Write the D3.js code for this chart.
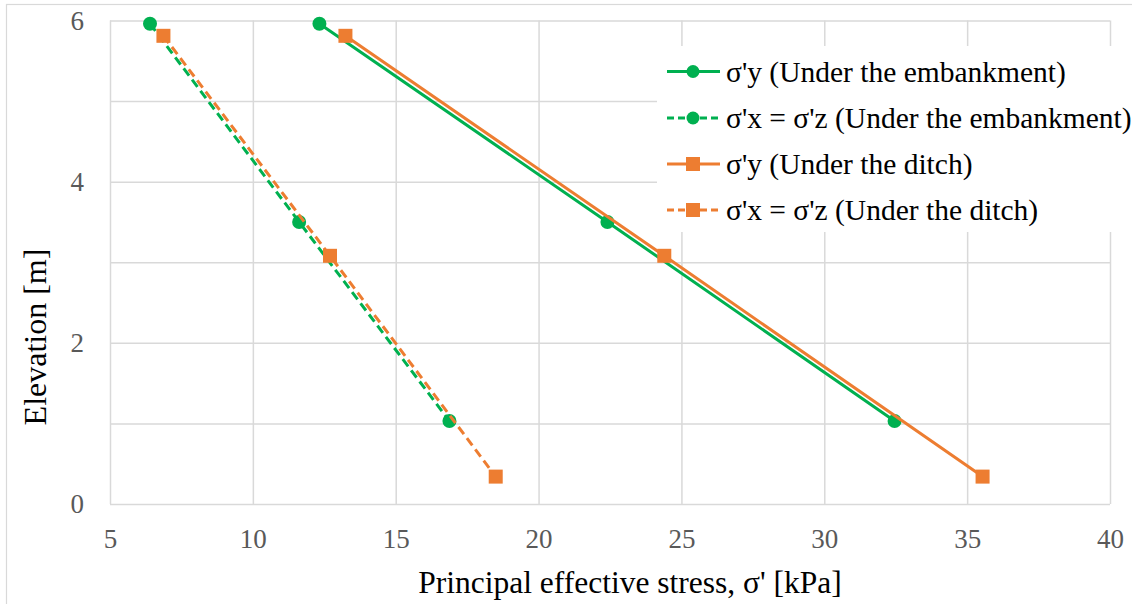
<!DOCTYPE html>
<html>
<head>
<meta charset="utf-8">
<script src="https://cdn.jsdelivr.net/npm/d3@7"></script>
<style>
  html, body { margin: 0; padding: 0; background: #fff; }
  svg { display: block; }
</style>
</head>
<body>
<svg id="chart" width="1132" height="604"></svg>
<script>
// ---- data ----
const seriesNames = [
  "σ'y (Under the embankment)",
  "σ'x = σ'z (Under the embankment)",
  "σ'y (Under the ditch)",
  "σ'x = σ'z (Under the ditch)"
];
const embankmentElevation = [5.96, 3.50, 1.03];
const embankmentSigmaY    = [12.33, 22.41, 32.46];
const embankmentSigmaXZ   = [6.40, 11.62, 16.88];
const ditchElevation      = [5.81, 3.08, 0.34];
const ditchSigmaY         = [13.24, 24.40, 35.54];
const ditchSigmaXZ        = [6.87, 12.70, 18.50];
const xTickValues = [5, 10, 15, 20, 25, 30, 35, 40];
const yTickValues = [0, 2, 4, 6];
const yGridValues = [0, 1, 2, 3, 4, 5, 6];
const xTitle = "Principal effective stress, σ' [kPa]";
const yTitle = "Elevation [m]";

// ---- build ----
const FONT = "'Liberation Serif', 'Times New Roman', 'DejaVu Serif', serif";
const GREEN = "#00b050", ORANGE = "#ed7d31", GRID = "#d9d9d9";
const series = [
  { name: seriesNames[0], xs: embankmentSigmaY,  ys: embankmentElevation, color: GREEN,  dash: null,  marker: "circle" },
  { name: seriesNames[1], xs: embankmentSigmaXZ, ys: embankmentElevation, color: GREEN,  dash: "9,5", marker: "circle" },
  { name: seriesNames[2], xs: ditchSigmaY,       ys: ditchElevation,      color: ORANGE, dash: null,  marker: "square" },
  { name: seriesNames[3], xs: ditchSigmaXZ,      ys: ditchElevation,      color: ORANGE, dash: "9,5", marker: "square" }
];

const svg = d3.select("#chart").style("font-family", FONT);
const plot = { left: 110, top: 20.5, right: 1110, bottom: 504 };
const x = d3.scaleLinear().domain([5, 40]).range([plot.left, plot.right]);
const y = d3.scaleLinear().domain([0, 6]).range([plot.bottom, plot.top]);

// outer chart border (top/left visible)
svg.append("rect").attr("x", 6.5).attr("y", 4.5).attr("width", 1140).attr("height", 620)
  .attr("fill", "none").attr("stroke", GRID).attr("stroke-width", 1.2);

// gridlines
const gx = svg.append("g").attr("transform", `translate(0,${plot.bottom})`)
  .call(d3.axisBottom(x).tickValues(xTickValues).tickSize(-(plot.bottom - plot.top)).tickFormat(""));
const gy = svg.append("g").attr("transform", `translate(${plot.left},0)`)
  .call(d3.axisLeft(y).tickValues(yGridValues).tickSize(-(plot.right - plot.left)).tickFormat(""));
[gx, gy].forEach(g => {
  g.select(".domain").remove();
  g.selectAll("line").attr("stroke", GRID).attr("stroke-width", 1.5);
});

// tick labels
const ax = svg.append("g").attr("transform", `translate(0,${plot.bottom})`)
  .call(d3.axisBottom(x).tickValues(xTickValues).tickSize(0).tickPadding(25).tickFormat(d3.format("d")));
const ay = svg.append("g").attr("transform", `translate(${plot.left},0)`)
  .call(d3.axisLeft(y).tickValues(yTickValues).tickSize(0).tickPadding(26).tickFormat(d3.format("d")));
[ax, ay].forEach(g => {
  g.select(".domain").remove();
  g.attr("font-family", null).attr("font-size", null);
  g.selectAll("text").attr("fill", "#595959").style("font-size", "27px").style("font-family", FONT);
});

// series
const line = d3.line().x(d => x(d[0])).y(d => y(d[1]));
series.forEach(s => {
  const pts = s.xs.map((v, i) => [v, s.ys[i]]);
  svg.append("path").datum(pts).attr("d", line)
    .attr("fill", "none").attr("stroke", s.color).attr("stroke-width", 3)
    .attr("stroke-dasharray", s.dash);
  const g = svg.append("g");
  if (s.marker === "circle") {
    g.selectAll("circle").data(pts).join("circle")
      .attr("cx", d => x(d[0])).attr("cy", d => y(d[1])).attr("r", 7).attr("fill", s.color);
  } else {
    g.selectAll("rect").data(pts).join("rect")
      .attr("x", d => x(d[0]) - 7).attr("y", d => y(d[1]) - 7)
      .attr("width", 14).attr("height", 14).attr("fill", s.color);
  }
});

// legend
const legend = svg.append("g");
legend.append("rect").attr("x", 657).attr("y", 46).attr("width", 480).attr("height", 186).attr("fill", "#fff");
const rowY = [71.5, 118, 164, 210];
series.forEach((s, i) => {
  const gy0 = rowY[i];
  legend.append("line").attr("x1", 667).attr("x2", 720).attr("y1", gy0).attr("y2", gy0)
    .attr("stroke", s.color).attr("stroke-width", 3).attr("stroke-dasharray", s.dash ? "7,4" : null);
  if (s.marker === "circle") {
    legend.append("circle").attr("cx", 693).attr("cy", gy0).attr("r", 6.5).attr("fill", s.color);
  } else {
    legend.append("rect").attr("x", 686).attr("y", gy0 - 7).attr("width", 14).attr("height", 14).attr("fill", s.color);
  }
  legend.append("text").attr("x", 726).attr("y", gy0).attr("dy", "0.35em")
    .style("font-family", FONT).style("font-size", "29.5px").attr("fill", "#000").text(s.name);
});

// axis titles
svg.append("text").attr("x", 630).attr("y", 593)
  .attr("text-anchor", "middle").style("font-family", FONT).style("font-size", "31.5px")
  .attr("fill", "#000").text(xTitle);
svg.append("text").attr("transform", `translate(46,337) rotate(-90)`)
  .attr("text-anchor", "middle").style("font-family", FONT).style("font-size", "32px")
  .attr("fill", "#000").text(yTitle);
</script>
</body>
</html>
